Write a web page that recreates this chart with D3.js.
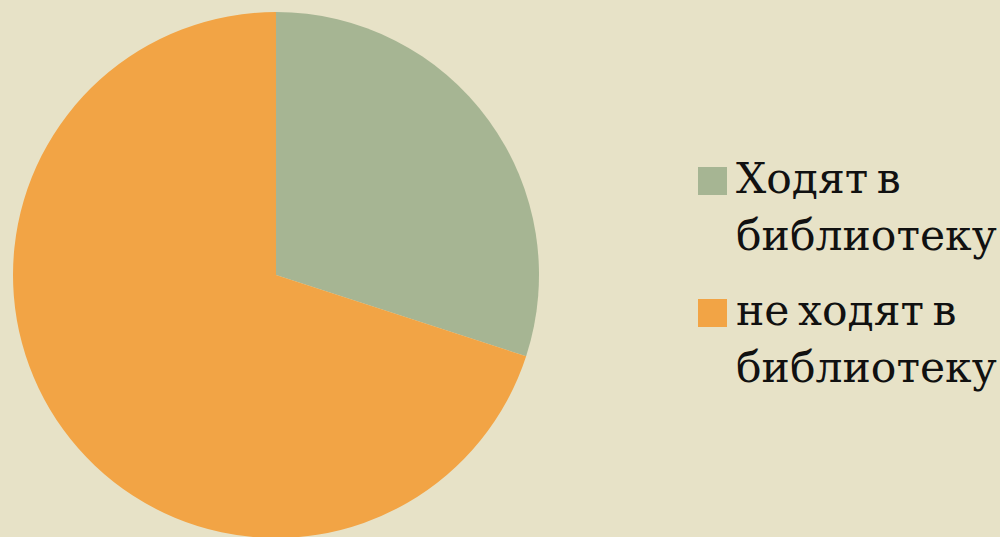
<!DOCTYPE html>
<html>
<head>
  <meta charset="utf-8">
  <script src="https://cdn.jsdelivr.net/npm/d3@7"></script>
  <style>
    body { margin: 0; background: #e7e2c7; }
  </style>
</head>
<body>
  <svg width="1000" height="537" id="chart"></svg>
  <script>
    const labels = [["Ходят в", "библиотеку"], ["не ходят в", "библиотеку"]];
    const values = [30, 70];
    const colors = ["#a6b593", "#f2a445"];

    const svg = d3.select('#chart');
    const cx = 276, cy = 275, r = 263;

    const pie = d3.pie().sort(null).value(d => d);
    const arc = d3.arc().innerRadius(0).outerRadius(r);

    svg.append('g')
      .attr('transform', `translate(${cx}, ${cy})`)
      .selectAll('path')
      .data(pie(values))
      .join('path')
      .attr('d', arc)
      .attr('fill', (d, i) => colors[i]);

    // legend
    const legend = svg.append('g').attr('transform', 'translate(698, 0)');
    const rowY = [193, 325];
    labels.forEach((lines, i) => {
      const g = legend.append('g').attr('transform', `translate(0, ${rowY[i]})`);
      g.append('rect')
        .attr('x', 0).attr('y', -26)
        .attr('width', 29).attr('height', 28)
        .attr('fill', colors[i]);
      const t = g.append('text')
        .attr('x', 38)
        .attr('font-family', 'DejaVu Serif, serif')
        .attr('font-size', 42.5)
        .attr('word-spacing', -5)
        .attr('fill', '#111');
      lines.forEach((s, j) => {
        t.append('tspan').attr('x', 38).attr('y', j * 57).text(s);
      });
    });
  </script>
</body>
</html>
